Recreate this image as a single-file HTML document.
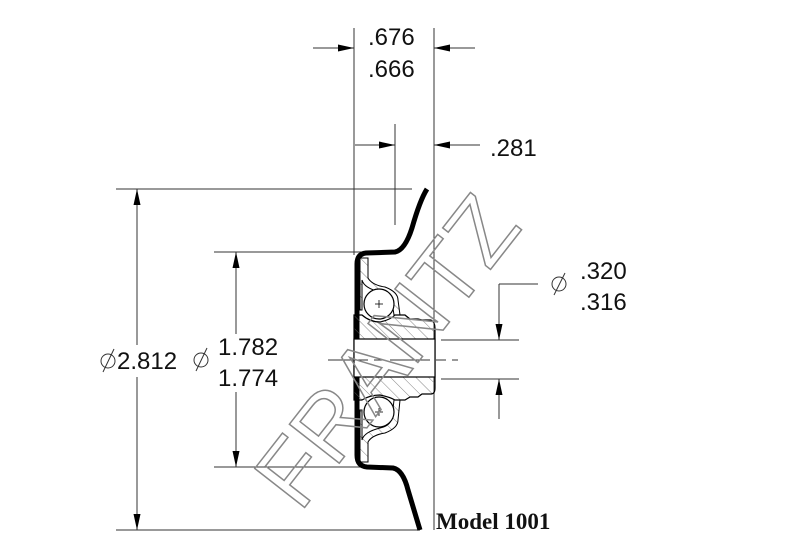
<!DOCTYPE html>
<html><head><style>
html,body{margin:0;padding:0;background:#fff;}
svg{display:block;}
text{font-family:"Liberation Sans",sans-serif;fill:#111;}
</style></head><body>
<svg width="809" height="542" viewBox="0 0 809 542" xmlns="http://www.w3.org/2000/svg">
<defs>
<marker id="a" viewBox="0 0 16 7" refX="16" refY="3.5" markerWidth="16" markerHeight="7" markerUnits="userSpaceOnUse" orient="auto"><path d="M0,0 L16,3.5 L0,7 Z" fill="#000"/></marker>
<pattern id="h" width="9" height="9" patternUnits="userSpaceOnUse" patternTransform="rotate(-45)"><line x1="0" y1="0" x2="0" y2="9" stroke="#666" stroke-width="0.8"/></pattern>
</defs>
<g stroke="#333" stroke-width="1" fill="none">
<line x1="354" y1="28" x2="354" y2="255"/>
<line x1="434" y1="28" x2="434" y2="530"/>
<line x1="395" y1="124" x2="395" y2="225"/>
<line x1="313" y1="48" x2="354" y2="48" marker-end="url(#a)"/>
<line x1="475" y1="48" x2="434" y2="48" marker-end="url(#a)"/>
<line x1="355" y1="145" x2="395" y2="145" marker-end="url(#a)"/>
<line x1="480" y1="145" x2="434" y2="145" marker-end="url(#a)"/>
<line x1="116" y1="189" x2="412" y2="189"/>
<line x1="116" y1="530" x2="420" y2="530"/>
<line x1="214" y1="252" x2="362" y2="252"/>
<line x1="214" y1="467" x2="362" y2="467"/>
<line x1="137" y1="345" x2="137" y2="189" marker-end="url(#a)"/>
<line x1="137" y1="377" x2="137" y2="530" marker-end="url(#a)"/>
<line x1="236" y1="334" x2="236" y2="252" marker-end="url(#a)"/>
<line x1="236" y1="392" x2="236" y2="467" marker-end="url(#a)"/>
<line x1="441" y1="340" x2="519" y2="340"/>
<line x1="441" y1="379" x2="519" y2="379"/>
<line x1="499" y1="284" x2="538" y2="284"/>
<line x1="499" y1="284" x2="499" y2="340" marker-end="url(#a)"/>
<line x1="499" y1="419" x2="499" y2="379" marker-end="url(#a)"/>
</g>
<path d="M427,189 Q420,200 412,228 Q405,250 395,252 L366,253 Q357,254 357,264 L357,455 Q357,466 367,467 L393,468 Q403,470 408,490 L420,530" fill="none" stroke="#000" stroke-width="5" stroke-linejoin="round"/>
<path d="M354,315 L362,315 Q370,322 380,322 Q390,320 395,315 L405,315 L410,319 L418,319 L422,320 L431,320 Q435,322 435,328 L435,388 Q435,394 431,394 L422,394 L418,397 L410,397 L405,400 L395,400 Q390,397 380,395 Q370,395 362,400 L354,400 Z" fill="url(#h)" stroke="#000" stroke-width="1.2"/>
<rect x="354" y="339" width="81" height="38" fill="#fff" stroke="#000" stroke-width="1.2"/>
<line x1="328" y1="360" x2="458" y2="360" stroke="#333" stroke-dasharray="40,6,10,6"/>
<path d="M360,258 L368,258 L368,278 Q372,285 385,287 Q398,292 398,300 L400,315 L394,315 L392,302 Q390,294 380,292 Q364,288 362,280 L362,310 L360,310 Z" fill="url(#h)" stroke="#000" stroke-width="1"/>
<path d="M360,462 L368,462 L368,442 Q372,435 385,433 Q398,428 398,420 L400,400 L394,400 L392,418 Q390,426 380,428 Q364,432 362,440 L362,410 L360,410 Z" fill="url(#h)" stroke="#000" stroke-width="1"/>
<circle cx="379" cy="304" r="15" fill="#fff" stroke="#000" stroke-width="1.2"/>
<circle cx="379" cy="412" r="15" fill="#fff" stroke="#000" stroke-width="1.2"/>
<g stroke="#000" stroke-width="0.8"><line x1="375" y1="304" x2="383" y2="304"/><line x1="379" y1="300" x2="379" y2="308"/><line x1="375" y1="412" x2="383" y2="412"/><line x1="379" y1="408" x2="379" y2="416"/></g>
<text x="392" y="380" text-anchor="middle" transform="rotate(-52 392 355)" font-size="92" stroke="#888" stroke-width="1.5" style="fill:none;letter-spacing:0px">FRANTZ</text>
<g fill="none" stroke="#333" stroke-width="1">
<circle cx="108" cy="361" r="7"/><line x1="103" y1="372" x2="114" y2="349"/>
<circle cx="201" cy="360" r="7"/><line x1="196" y1="371" x2="207" y2="348"/>
<circle cx="559" cy="284" r="7"/><line x1="554" y1="295" x2="565" y2="273"/>
</g>
<text x="368" y="45" font-size="24">.676</text>
<text x="368" y="77" font-size="24">.666</text>
<text x="490" y="156" font-size="24">.281</text>
<text x="117" y="369" font-size="24">2.812</text>
<text x="218" y="355" font-size="24">1.782</text>
<text x="218" y="386" font-size="24">1.774</text>
<text x="580" y="279" font-size="24">.320</text>
<text x="580" y="310" font-size="24">.316</text>
<text x="436" y="529" font-size="23" font-weight="bold" style="font-family:'Liberation Serif',serif">Model 1001</text>
</svg>
</body></html>
